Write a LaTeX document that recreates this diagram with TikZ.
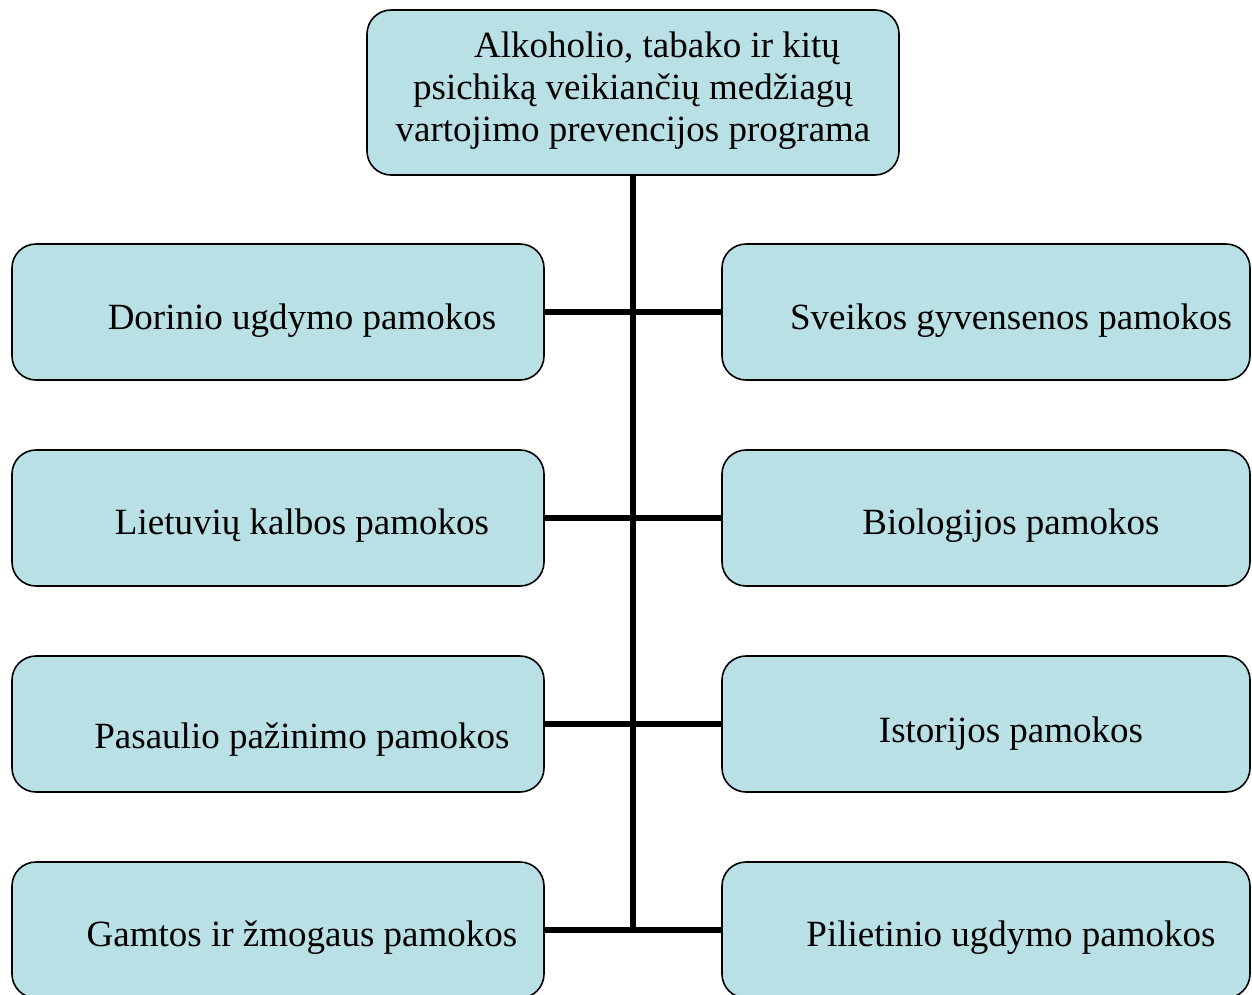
\documentclass[tikz,border=0pt]{standalone}
\usepackage{fontspec}
\setmainfont{Liberation Serif}
\definecolor{boxfill}{HTML}{B9E0E4}
\begin{document}
\begin{tikzpicture}[x=1pt,y=-1pt,
  boxstyle/.style={draw=black,line width=1.6pt,fill=boxfill,rounded corners=24pt,inner sep=0pt,minimum height=136pt},
  txt/.style={anchor=base,inner sep=0pt,font=\fontsize{37}{42}\selectfont},
  conn/.style={line width=5.5pt,draw=black}]
\useasboundingbox (0,0) rectangle (1252,994);
% boxes
\node[boxstyle,minimum width=532pt,minimum height=165pt] (top) at (633,92.5) {};
\node[boxstyle,minimum width=532pt] (L1) at (278,312) {};
\node[boxstyle,minimum width=532pt] (L2) at (278,518) {};
\node[boxstyle,minimum width=532pt] (L3) at (278,724) {};
\node[boxstyle,minimum width=532pt] (L4) at (278,930) {};
\node[boxstyle,minimum width=528pt] (R1) at (986,312) {};
\node[boxstyle,minimum width=528pt] (R2) at (986,518) {};
\node[boxstyle,minimum width=528pt] (R3) at (986,724) {};
\node[boxstyle,minimum width=528pt] (R4) at (986,930) {};
% connectors
\coordinate (vend) at (633,930);
\draw[conn] (top.south) -- (vend);
\draw[conn] (L1.east) -- (R1.west);
\draw[conn] (L2.east) -- (R2.west);
\draw[conn] (L3.east) -- (R3.west);
\draw[conn] (L4.east) -- (R4.west);
% texts
\node[txt] (t1) at (657,57) {Alkoholio, tabako ir kitų};
\node[txt] (t2) at (633,99) {psichiką veikiančių medžiagų};
\node[txt] (t3) at (633,141) {vartojimo prevencijos programa};
\node[txt] (l1) at (302,329) {Dorinio ugdymo pamokos};
\node[txt] (l2) at (302,534) {Lietuvių kalbos pamokos};
\node[txt] (l3) at (302,748) {Pasaulio pažinimo pamokos};
\node[txt] (l4) at (302,946) {Gamtos ir žmogaus pamokos};
\node[txt] (r1) at (1011,329) {Sveikos gyvensenos pamokos};
\node[txt] (r2) at (1011,534) {Biologijos pamokos};
\node[txt] (r3) at (1011,742) {Istorijos pamokos};
\node[txt] (r4) at (1011,946) {Pilietinio ugdymo pamokos};
\end{tikzpicture}
\end{document}
